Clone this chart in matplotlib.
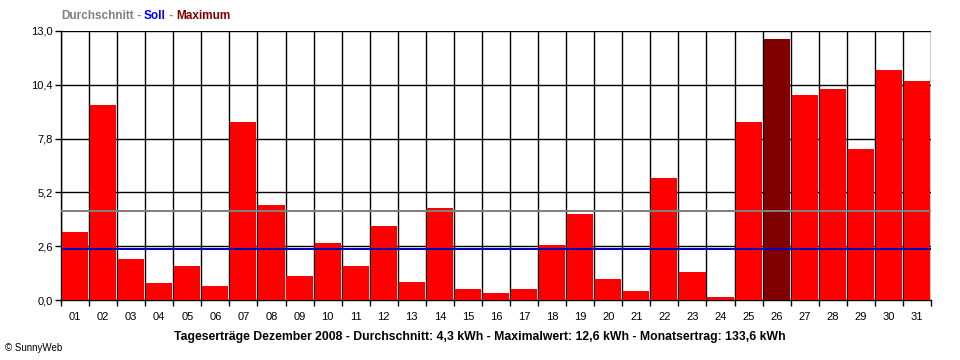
import matplotlib
matplotlib.use("Agg")
import matplotlib.pyplot as plt
import numpy as np

# daily yields, December 2008 (kWh)
days = ["%02d" % d for d in range(1, 32)]
yields = [3.3, 9.4, 2.0, 0.8, 1.65, 0.7, 8.6, 4.6, 1.15, 2.75,
          1.65, 3.6, 0.85, 4.45, 0.55, 0.35, 0.55, 2.65, 4.15, 1.0,
          0.45, 5.9, 1.35, 0.15, 8.6, 12.6, 9.9, 10.2, 7.3, 11.1, 10.6]
average = 4.3
target = 2.45
y_ticks = [0.0, 2.6, 5.2, 7.8, 10.4, 13.0]

plt.rcParams['font.family'] = ['Liberation Sans', 'DejaVu Sans']

fig = plt.figure(figsize=(9.6, 3.6), dpi=100)
ax = fig.add_axes([61 / 960, 1 - 300 / 360, 870 / 960, 269 / 360])

x = np.arange(len(days))
max_i = int(np.argmax(yields))
colors = ['#800000' if i == max_i else '#ff0000' for i in range(len(days))]
ax.bar(x, yields, width=0.93, color=colors, zorder=3)

# reference lines (drawn over the bars)
ax.axhline(average, color='#808080', lw=1.1, zorder=5, antialiased=False)
ax.axhline(target, color='#0000c0', lw=1.1, zorder=5, antialiased=False)

ax.set_xlim(-0.5, len(days) - 0.5)
ax.set_ylim(0, 13.0)

# grid: horizontal at y ticks, vertical at cell borders (behind bars)
for yv in y_ticks:
    ax.axhline(yv, color='black', lw=1, zorder=1)
for b in np.arange(-0.5, len(days), 1.0):
    ax.axvline(b, color='black', lw=1, zorder=1)

ax.set_yticks(y_ticks)
ax.set_yticklabels([("%.1f" % v).replace('.', ',') for v in y_ticks], fontsize=8)
ax.set_xticks(np.arange(-0.5, len(days), 1.0))
ax.set_xticklabels([])
ax.set_xticks(x, minor=True)
ax.set_xticklabels(days, minor=True, fontsize=8)
ax.tick_params(axis='x', which='minor', length=0, pad=9)
ax.tick_params(axis='x', which='major', length=4, width=1, direction='out')
ax.tick_params(axis='y', length=4, width=1, direction='out', pad=2)
for s in ['top', 'right']:
    ax.spines[s].set_visible(False)
for s in ['left', 'bottom']:
    ax.spines[s].set_linewidth(1)

# legend line at top
fig.canvas.draw()
renderer = fig.canvas.get_renderer()
parts = [("Durchschnitt", '#808080'), (" - ", '#808080'), ("Soll", '#0000ff'),
         (" - ", '#808080'), ("Maximum", '#800000')]
xp = 61
for txt, col in parts:
    t = fig.text(xp / 960, 1 - 16 / 360, txt, color=col, fontsize=8.5,
                 fontweight='bold', va='center', ha='left')
    bb = t.get_window_extent(renderer)
    xp += bb.width

fig.text(480 / 960, 1 - 337 / 360,
         "Tageserträge Dezember 2008 - Durchschnitt: 4,3 kWh - Maximalwert: 12,6 kWh - Monatsertrag: 133,6 kWh",
         fontsize=8.8, fontweight='bold', ha='center', va='center')
fig.text(5 / 960, 1 - 348 / 360, "© SunnyWeb", fontsize=7, ha='left', va='center')

fig.savefig("out.png", dpi=100)
